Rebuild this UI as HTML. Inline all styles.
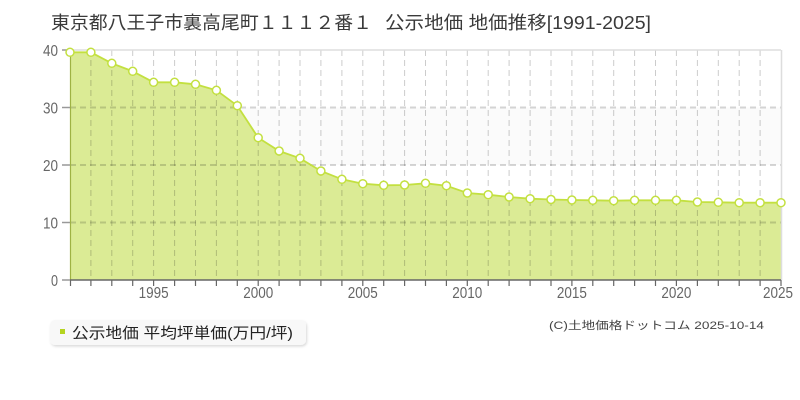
<!DOCTYPE html>
<html><head><meta charset="utf-8"><style>
html,body{margin:0;padding:0;background:#fff;width:800px;height:400px;overflow:hidden}
svg{display:block}
text{font-family:"Liberation Sans","Noto Sans CJK JP",sans-serif}
</style></head><body>
<svg width="800" height="400" viewBox="0 0 800 400" xmlns="http://www.w3.org/2000/svg">
<defs>
<filter id="sh" x="-5%" y="-20%" width="110%" height="150%"><feDropShadow dx="1" dy="1.5" stdDeviation="1.2" flood-color="#000" flood-opacity="0.15"/></filter>
</defs>
<!-- title -->
<text x="51" y="29" font-size="18" fill="#3a3a3a" textLength="321" lengthAdjust="spacingAndGlyphs">東京都八王子市裏高尾町１１１２番１</text>
<text x="385" y="29" font-size="18" fill="#3a3a3a" textLength="266" lengthAdjust="spacingAndGlyphs">公示地価 地価推移[1991-2025]</text>
<!-- plot background bands -->
<rect x="70" y="50" width="711" height="230" fill="#fff"/>
<rect x="70" y="107.5" width="711" height="57.5" fill="#fbfbfb"/>
<!-- area -->
<path d="M70,280 L70,52.3 L90.9,52.3 L111.8,63.3 L132.7,71.3 L153.6,82.3 L174.6,82.3 L195.5,84.3 L216.4,90.3 L237.3,105.7 L258.2,137.7 L279.1,151 L300,158.3 L320.9,171 L341.9,179.3 L362.8,183.7 L383.7,185.3 L404.6,185 L425.5,183.3 L446.4,185.7 L467.3,193 L488.2,194.7 L509.1,197 L530.1,198.7 L551,199.5 L571.9,200 L592.8,200.3 L613.7,200.7 L634.6,200.3 L655.5,200.3 L676.4,200.3 L697.4,202 L718.3,202.3 L739.2,202.7 L760.1,202.7 L781,202.7 L781,280 Z" fill="#dbeb95"/>
<!-- grid -->
<g stroke="rgba(0,0,0,0.2)" stroke-width="1" stroke-dasharray="6,4">
<path d="M90.9,50V280M111.8,50V280M132.7,50V280M153.6,50V280M174.6,50V280M195.5,50V280M216.4,50V280M237.3,50V280M258.2,50V280M279.1,50V280M300,50V280M320.9,50V280M341.9,50V280M362.8,50V280M383.7,50V280M404.6,50V280M425.5,50V280M446.4,50V280M467.3,50V280M488.2,50V280M509.1,50V280M530.1,50V280M551,50V280M571.9,50V280M592.8,50V280M613.7,50V280M634.6,50V280M655.5,50V280M676.4,50V280M697.4,50V280M718.3,50V280M739.2,50V280M760.1,50V280"/>
</g>
<g stroke="rgba(0,0,0,0.16)" stroke-width="2" stroke-dasharray="6,4">
<path d="M70,107.5H781M70,165H781M70,222.5H781"/>
</g>
<line x1="70" y1="50" x2="781" y2="50" stroke="#ddd" stroke-width="1.5"/>
<line x1="781.5" y1="50" x2="781.5" y2="280" stroke="#ddd" stroke-width="1.5"/>
<!-- series line -->
<polyline fill="none" stroke="#c3e040" stroke-width="1.8" points="70,52.3 90.9,52.3 111.8,63.3 132.7,71.3 153.6,82.3 174.6,82.3 195.5,84.3 216.4,90.3 237.3,105.7 258.2,137.7 279.1,151 300,158.3 320.9,171 341.9,179.3 362.8,183.7 383.7,185.3 404.6,185 425.5,183.3 446.4,185.7 467.3,193 488.2,194.7 509.1,197 530.1,198.7 551,199.5 571.9,200 592.8,200.3 613.7,200.7 634.6,200.3 655.5,200.3 676.4,200.3 697.4,202 718.3,202.3 739.2,202.7 760.1,202.7 781,202.7"/>
<line x1="70.5" y1="52" x2="70.5" y2="280" stroke="#9fb244" stroke-width="1.2"/>
<!-- axes -->
<line x1="70" y1="280" x2="781" y2="280" stroke="#666" stroke-width="1.5"/>
<g stroke="#666" stroke-width="1.2">
<path d="M70.5,280V286M90.9,280V286M111.8,280V286M132.7,280V286M153.6,280V286M174.6,280V286M195.5,280V286M216.4,280V286M237.3,280V286M258.2,280V286M279.1,280V286M300,280V286M320.9,280V286M341.9,280V286M362.8,280V286M383.7,280V286M404.6,280V286M425.5,280V286M446.4,280V286M467.3,280V286M488.2,280V286M509.1,280V286M530.1,280V286M551,280V286M571.9,280V286M592.8,280V286M613.7,280V286M634.6,280V286M655.5,280V286M676.4,280V286M697.4,280V286M718.3,280V286M739.2,280V286M760.1,280V286M781,280V286"/>
</g>
<g stroke="#999" stroke-width="1.5">
<path d="M62,50H70M62,107.5H70M62,165H70M62,222.5H70M62,280H70"/>
</g>
<!-- markers -->
<g fill="#fff" stroke="#c3e040" stroke-width="1.5">
<circle cx="70" cy="52.3" r="4"/><circle cx="90.9" cy="52.3" r="4"/><circle cx="111.8" cy="63.3" r="4"/><circle cx="132.7" cy="71.3" r="4"/><circle cx="153.6" cy="82.3" r="4"/><circle cx="174.6" cy="82.3" r="4"/><circle cx="195.5" cy="84.3" r="4"/><circle cx="216.4" cy="90.3" r="4"/><circle cx="237.3" cy="105.7" r="4"/><circle cx="258.2" cy="137.7" r="4"/><circle cx="279.1" cy="151" r="4"/><circle cx="300" cy="158.3" r="4"/><circle cx="320.9" cy="171" r="4"/><circle cx="341.9" cy="179.3" r="4"/><circle cx="362.8" cy="183.7" r="4"/><circle cx="383.7" cy="185.3" r="4"/><circle cx="404.6" cy="185" r="4"/><circle cx="425.5" cy="183.3" r="4"/><circle cx="446.4" cy="185.7" r="4"/><circle cx="467.3" cy="193" r="4"/><circle cx="488.2" cy="194.7" r="4"/><circle cx="509.1" cy="197" r="4"/><circle cx="530.1" cy="198.7" r="4"/><circle cx="551" cy="199.5" r="4"/><circle cx="571.9" cy="200" r="4"/><circle cx="592.8" cy="200.3" r="4"/><circle cx="613.7" cy="200.7" r="4"/><circle cx="634.6" cy="200.3" r="4"/><circle cx="655.5" cy="200.3" r="4"/><circle cx="676.4" cy="200.3" r="4"/><circle cx="697.4" cy="202" r="4"/><circle cx="718.3" cy="202.3" r="4"/><circle cx="739.2" cy="202.7" r="4"/><circle cx="760.1" cy="202.7" r="4"/><circle cx="781" cy="202.7" r="4"/>
</g>
<!-- y labels -->
<g font-size="16" fill="#666" text-anchor="end">
<text x="58" y="56" textLength="15" lengthAdjust="spacingAndGlyphs">40</text>
<text x="58" y="113.5" textLength="15" lengthAdjust="spacingAndGlyphs">30</text>
<text x="58" y="171" textLength="15" lengthAdjust="spacingAndGlyphs">20</text>
<text x="58" y="228.5" textLength="15" lengthAdjust="spacingAndGlyphs">10</text>
<text x="58" y="286" textLength="7" lengthAdjust="spacingAndGlyphs">0</text>
</g>
<!-- x labels -->
<g font-size="16" fill="#666">
<text x="138.6" y="298" textLength="30" lengthAdjust="spacingAndGlyphs">1995</text>
<text x="243.2" y="298" textLength="30" lengthAdjust="spacingAndGlyphs">2000</text>
<text x="347.8" y="298" textLength="30" lengthAdjust="spacingAndGlyphs">2005</text>
<text x="452.3" y="298" textLength="30" lengthAdjust="spacingAndGlyphs">2010</text>
<text x="556.9" y="298" textLength="30" lengthAdjust="spacingAndGlyphs">2015</text>
<text x="661.4" y="298" textLength="30" lengthAdjust="spacingAndGlyphs">2020</text>
<text x="763" y="298" textLength="30" lengthAdjust="spacingAndGlyphs">2025</text>
</g>
<!-- legend -->
<rect x="50" y="320" width="256" height="25" rx="5" ry="5" fill="#f8f8f8" filter="url(#sh)"/>
<rect x="60" y="329" width="5" height="5" fill="#b5d420"/>
<text x="72" y="338" font-size="15" fill="#222" textLength="221" lengthAdjust="spacingAndGlyphs">公示地価 平均坪単価(万円/坪)</text>
<!-- footer -->
<text x="549" y="329" font-size="11" fill="#444" textLength="215" lengthAdjust="spacingAndGlyphs">(C)土地価格ドットコム 2025-10-14</text>
</svg>
</body></html>
